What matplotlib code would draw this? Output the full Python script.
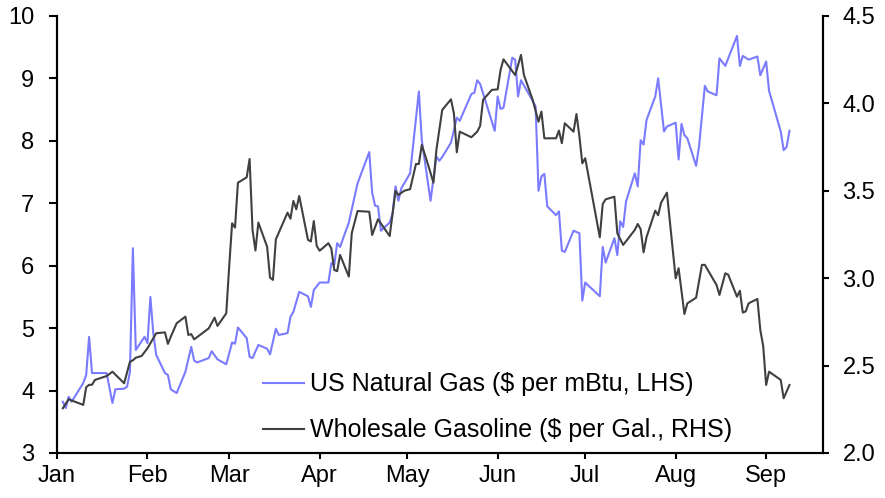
import matplotlib
matplotlib.use('Agg')
import numpy as np
import pandas as pd
from matplotlib import pyplot as plt
import matplotlib.dates as mdates

plt.rcParams['font.family'] = ['Liberation Sans', 'DejaVu Sans']
plt.rcParams['font.size'] = 17

# days since 1 Jan 2022
gas_day = [2, 3, 4, 5, 9, 10, 11, 12, 17, 19, 20, 23, 24, 25, 26, 27, 30, 31, 32, 33,
           34, 37, 38, 39, 41, 44, 46, 47, 48, 52, 53, 55, 58, 60, 61, 62, 65, 66, 67, 69,
           72, 73, 75, 76, 79, 80, 81, 83, 86, 87, 88, 90, 93, 94, 95, 96, 97, 100, 103, 107,
           108, 109, 110, 111, 114, 115, 116, 117, 118, 121, 124, 125, 128, 130, 131, 132, 135, 137, 138, 142,
           143, 144, 145, 150, 151, 152, 153, 156, 157, 158, 159, 163, 164, 165, 166, 167, 168, 171, 172, 173,
           174, 177, 179, 180, 181, 186, 187, 188, 191, 192, 193, 194, 195, 198, 199, 200, 201, 202, 205, 206,
           208, 209, 212, 213, 214, 215, 216, 219, 220, 222, 223, 226, 227, 229, 233, 234, 235, 237, 240, 241,
           243, 244, 248, 249, 250, 251]
gas_val = [3.82, 3.72, 3.90, 3.82, 4.12, 4.25, 4.86, 4.28, 4.28, 3.80, 4.02, 4.03, 4.06, 4.30, 6.28, 4.65, 4.86, 4.76, 5.50, 4.92,
           4.57, 4.28, 4.25, 4.02, 3.96, 4.30, 4.70, 4.48, 4.45, 4.52, 4.63, 4.50, 4.42, 4.77, 4.75, 5.01, 4.84, 4.54, 4.52, 4.73,
           4.67, 4.58, 4.99, 4.89, 4.92, 5.18, 5.26, 5.58, 5.51, 5.34, 5.61, 5.73, 5.73, 6.04, 6.01, 6.36, 6.30, 6.69, 7.32, 7.82,
           7.17, 6.96, 6.95, 6.56, 6.69, 6.84, 7.27, 7.04, 7.24, 7.48, 8.79, 8.01, 7.04, 7.75, 7.68, 7.74, 7.97, 8.37, 8.32, 8.75,
           8.77, 8.97, 8.91, 8.16, 8.71, 8.51, 8.53, 9.33, 9.30, 8.71, 8.97, 8.64, 8.55, 7.20, 7.43, 7.47, 6.95, 6.81, 6.87, 6.24,
           6.22, 6.56, 6.52, 5.44, 5.73, 5.51, 6.30, 6.05, 6.44, 6.17, 6.71, 6.62, 7.03, 7.48, 7.27, 8.01, 7.94, 8.33, 8.71, 9.00,
           8.15, 8.23, 8.29, 7.70, 8.27, 8.09, 8.04, 7.60, 7.91, 8.88, 8.79, 8.73, 9.32, 9.20, 9.68, 9.20, 9.36, 9.30, 9.35, 9.05,
           9.27, 8.80, 8.15, 7.85, 7.90, 8.16]

gasoline_day = [2, 4, 9, 10, 11, 12, 13, 17, 19, 23, 25, 26, 27, 29, 31, 34, 37, 38, 39, 41,
                44, 45, 46, 47, 52, 54, 55, 58, 59, 60, 61, 62, 65, 66, 67, 68, 69, 72, 73, 74,
                75, 79, 80, 81, 82, 83, 86, 87, 88, 89, 90, 93, 94, 95, 96, 97, 100, 101, 103, 107,
                108, 110, 114, 116, 117, 119, 121, 123, 124, 125, 127, 129, 130, 132, 135, 136, 137, 138, 142, 144,
                145, 146, 149, 151, 152, 153, 157, 159, 160, 163, 165, 166, 167, 171, 172, 173, 174, 177, 178, 179,
                180, 181, 186, 187, 188, 191, 192, 194, 198, 199, 200, 201, 202, 205, 206, 207, 209, 212, 213, 215,
                216, 219, 221, 222, 226, 227, 229, 230, 233, 234, 235, 236, 237, 240, 241, 242, 243, 244, 248, 249,
                251]
gasoline_val = [2.256, 2.307, 2.275, 2.376, 2.39, 2.39, 2.418, 2.44, 2.465, 2.399, 2.522, 2.53, 2.545, 2.555, 2.599, 2.685, 2.69, 2.624, 2.665, 2.742,
                2.78, 2.675, 2.68, 2.65, 2.713, 2.774, 2.727, 2.799, 3.066, 3.314, 3.289, 3.546, 3.577, 3.682, 3.276, 3.158, 3.318, 3.18, 3.003, 2.99,
                3.222, 3.375, 3.34, 3.442, 3.394, 3.47, 3.219, 3.21, 3.327, 3.184, 3.157, 3.2, 3.17, 3.047, 3.04, 3.133, 3.009, 3.257, 3.384, 3.38,
                3.247, 3.337, 3.241, 3.499, 3.476, 3.50, 3.509, 3.653, 3.653, 3.762, 3.657, 3.546, 3.733, 3.962, 4.023, 3.943, 3.72, 3.838, 3.806, 3.838,
                3.871, 4.02, 4.077, 4.08, 4.191, 4.252, 4.162, 4.277, 4.162, 4.02, 3.895, 3.953, 3.80, 3.80, 3.844, 3.772, 3.886, 3.838, 3.939, 3.813,
                3.657, 3.686, 3.234, 3.424, 3.451, 3.466, 3.257, 3.19, 3.276, 3.31, 3.28, 3.148, 3.234, 3.386, 3.36, 3.432, 3.489, 2.999, 3.057, 2.795,
                2.856, 2.888, 3.076, 3.076, 2.961, 2.904, 3.028, 3.02, 2.894, 2.928, 2.803, 2.81, 2.856, 2.881, 2.704, 2.61, 2.389, 2.465, 2.418, 2.313,
                2.389]

start = pd.Timestamp('2022-01-01')
gas_dates = start + pd.to_timedelta(gas_day, unit='D')
gasoline_dates = start + pd.to_timedelta(gasoline_day, unit='D')

fig = plt.figure(figsize=(8.85, 4.98), dpi=100)
ax = fig.add_axes([0.0644, 0.0904, 0.8656, 0.8776])
ax2 = ax.twinx()

l1, = ax.plot(gas_dates, gas_val, color='#7b7bff', lw=1.5, label='US Natural Gas ($ per mBtu, LHS)')
l2, = ax2.plot(gasoline_dates, gasoline_val, color='#404040', lw=1.5, label='Wholesale Gasoline ($ per Gal., RHS)')

ax.set_ylim(3, 10)
ax2.set_ylim(2.0, 4.5)
ax.set_yticks(range(3, 11))
ax2.set_yticks(np.arange(2.0, 4.51, 0.5))
ax2.yaxis.set_major_formatter(matplotlib.ticker.FormatStrFormatter('%.1f'))

ax.set_xlim(start, start + pd.Timedelta(days=262.5))
ax.xaxis.set_major_locator(mdates.MonthLocator())
ax.xaxis.set_major_formatter(mdates.DateFormatter('%b'))

for a in (ax, ax2):
    a.spines['top'].set_visible(False)
    for s in a.spines.values():
        s.set_linewidth(1.5)
ax.tick_params(axis='x', width=1.5, length=4.5, pad=4)
ax.tick_params(axis='y', width=1.5, length=5.8, pad=10.5)
ax2.tick_params(axis='y', width=1.5, length=4, pad=10)

ax.legend([l1, l2], [l1.get_label(), l2.get_label()], loc='lower left',
          bbox_to_anchor=(0.2396, -0.027), frameon=False, fontsize=18,
          handlelength=1.64, handletextpad=0.25, labelspacing=0.88)

plt.savefig('out.png', dpi=100)
